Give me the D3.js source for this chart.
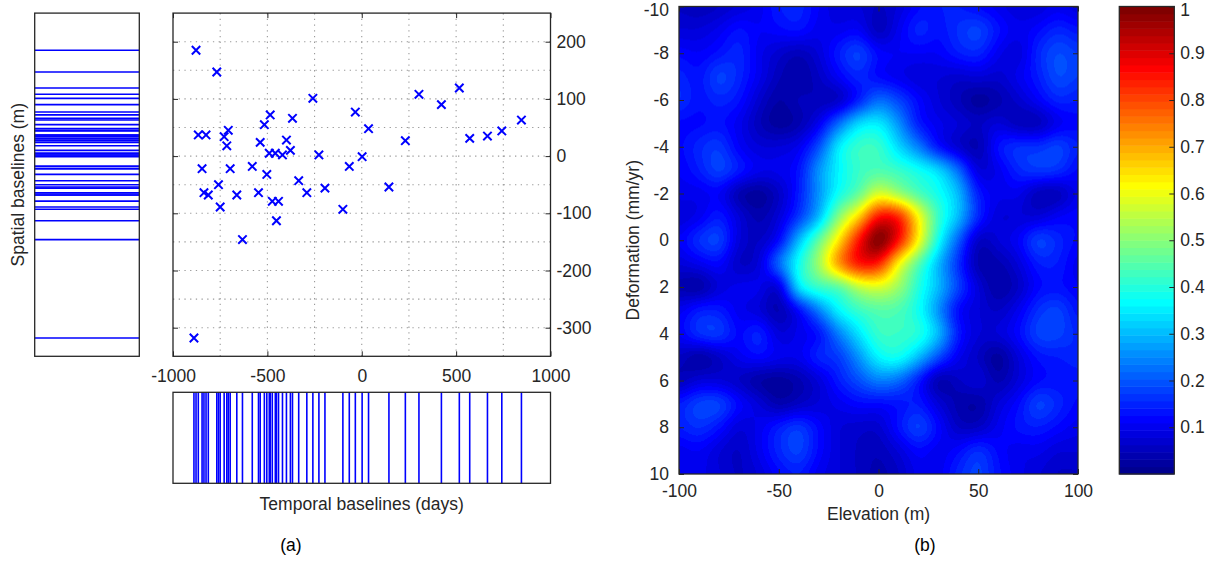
<!DOCTYPE html>
<html><head><meta charset="utf-8">
<script src="https://cdn.jsdelivr.net/npm/d3@7"></script>
<style>
body{margin:0;background:#fff}
svg{display:block}
text{font-family:"Liberation Sans",Arial,Helvetica,sans-serif}
</style>
</head><body>
<svg id="chart" width="1215" height="561"></svg>
<script>
// ---------- Panel (a): baselines ----------
const temporalBaselines = [-878,-768,-259,-34,36,-485,-516,-367,-866,-825,-707,-729,-715,-538,-399,-378,-490,-458,-420,-227,2,-66,-846,-697,-580,-503,-334,-759,-195,303,422,517,846,572,666,742,231,144,-836,-813,-662,-547,-750,-474,-441,-452,-632,-291,-100,-889];
const spatialBaselines  = [185,147,101,77,48,72,55,66,37,37,45,34,18,24,28,10,5,5,2,2,-1,-18,-22,-22,-18,-32,-43,-50,-56,108,90,119,63,31,35,44,27,-54,-64,-68,-68,-64,-89,-79,-79,-113,-146,-64,-93,-318];
const scatterXTicks = [-1000,-500,0,500,1000];
const scatterYTicks = [-300,-200,-100,0,100,200];
const scatterXGrid = [-750,-500,-250,0,250,500,750];
const scatterYGrid = [-300,-250,-200,-150,-100,-50,0,50,100,150,200];

// ---------- Panel (b): coherence map ----------
const elevationTicks = [-100,-50,0,50,100];
const deformationTicks = [-10,-8,-6,-4,-2,0,2,4,6,8,10];
const colorbarTicks = [0.1,0.2,0.3,0.4,0.5,0.6,0.7,0.8,0.9,1];
const elevationSamples = [-100,-90,-80,-70,-60,-50,-40,-30,-20,-10,0,10,20,30,40,50,60,70,80,90,100];
const deformationSamples = [-10,-9,-8,-7,-6,-5,-4,-3,-2,-1,0,1,2,3,4,5,6,7,8,9,10];
const coherence = [
 [0.06,0.05,0.06,0.08,0.10,0.14,0.15,0.11,0.08,0.08,0.06,0.08,0.12,0.14,0.14,0.12,0.10,0.08,0.08,0.10,0.08],
 [0.08,0.08,0.10,0.13,0.11,0.12,0.13,0.10,0.10,0.11,0.05,0.10,0.15,0.13,0.16,0.18,0.13,0.10,0.12,0.15,0.13],
 [0.12,0.11,0.13,0.15,0.10,0.07,0.05,0.08,0.14,0.18,0.12,0.11,0.11,0.11,0.14,0.15,0.10,0.08,0.15,0.19,0.17],
 [0.15,0.13,0.18,0.15,0.10,0.05,0.03,0.06,0.11,0.15,0.12,0.10,0.08,0.08,0.07,0.08,0.07,0.10,0.14,0.19,0.17],
 [0.16,0.13,0.15,0.13,0.07,0.03,0.05,0.05,0.06,0.14,0.22,0.18,0.12,0.08,0.05,0.02,0.04,0.07,0.11,0.15,0.14],
 [0.12,0.12,0.13,0.10,0.05,0.02,0.04,0.10,0.22,0.33,0.35,0.26,0.14,0.10,0.08,0.06,0.08,0.05,0.05,0.10,0.12],
 [0.12,0.15,0.17,0.11,0.08,0.08,0.10,0.19,0.35,0.42,0.42,0.33,0.24,0.13,0.07,0.04,0.13,0.16,0.16,0.18,0.14],
 [0.11,0.14,0.18,0.14,0.10,0.10,0.13,0.26,0.36,0.42,0.44,0.42,0.38,0.33,0.22,0.08,0.10,0.15,0.17,0.16,0.12],
 [0.10,0.10,0.11,0.04,0.02,0.06,0.14,0.26,0.38,0.46,0.58,0.52,0.44,0.38,0.30,0.14,0.10,0.10,0.05,0.05,0.10],
 [0.08,0.10,0.14,0.08,0.04,0.08,0.17,0.30,0.50,0.66,0.86,0.84,0.62,0.42,0.30,0.15,0.08,0.08,0.08,0.11,0.12],
 [0.11,0.16,0.18,0.08,0.06,0.12,0.30,0.46,0.64,0.85,1.00,0.86,0.62,0.38,0.21,0.06,0.08,0.11,0.18,0.15,0.12],
 [0.08,0.10,0.12,0.06,0.08,0.22,0.38,0.52,0.72,0.85,0.84,0.62,0.45,0.30,0.16,0.04,0.04,0.08,0.14,0.14,0.10],
 [0.04,0.03,0.08,0.10,0.10,0.08,0.34,0.42,0.45,0.55,0.58,0.52,0.40,0.30,0.18,0.08,0.03,0.06,0.12,0.13,0.11],
 [0.10,0.14,0.14,0.10,0.08,0.04,0.12,0.24,0.36,0.42,0.45,0.44,0.38,0.26,0.12,0.08,0.06,0.10,0.16,0.18,0.13],
 [0.11,0.16,0.17,0.12,0.15,0.08,0.10,0.13,0.24,0.34,0.42,0.42,0.40,0.30,0.14,0.08,0.08,0.12,0.18,0.18,0.15],
 [0.06,0.03,0.06,0.10,0.12,0.10,0.10,0.15,0.17,0.26,0.36,0.38,0.30,0.19,0.10,0.06,0.02,0.08,0.13,0.14,0.15],
 [0.05,0.08,0.08,0.06,0.03,0.02,0.04,0.08,0.14,0.19,0.24,0.22,0.14,0.04,0.06,0.08,0.04,0.08,0.12,0.13,0.13],
 [0.14,0.18,0.18,0.12,0.08,0.04,0.06,0.08,0.10,0.12,0.12,0.13,0.14,0.08,0.04,0.03,0.08,0.12,0.18,0.15,0.12],
 [0.14,0.16,0.13,0.08,0.10,0.14,0.17,0.12,0.08,0.07,0.07,0.13,0.18,0.12,0.06,0.06,0.10,0.13,0.14,0.12,0.10],
 [0.10,0.11,0.08,0.06,0.10,0.15,0.18,0.12,0.08,0.06,0.05,0.08,0.12,0.10,0.12,0.16,0.12,0.10,0.10,0.08,0.08],
 [0.10,0.10,0.08,0.06,0.08,0.12,0.14,0.10,0.08,0.06,0.04,0.06,0.10,0.10,0.15,0.18,0.13,0.10,0.08,0.06,0.06]
];

// ---------- helpers ----------
const AX = "#262626";
const FS = 17.5;
const svg = d3.select("#chart");
const fmt = d => String(d);

function jet64(v){
  const i = Math.max(1, Math.min(64, Math.floor(v*64)+1));
  let r,g,b;
  r = i<=24?0: i<=40?(i-24)/16: i<=56?1: 1-(i-56)/16;
  g = i<=8?0: i<=24?(i-8)/16: i<=40?1: i<=56?1-(i-40)/16: 0;
  b = i<=8?0.5+i/16: i<=24?1: i<=40?1-(i-24)/16: 0;
  return [Math.round(r*255),Math.round(g*255),Math.round(b*255)];
}
function styleAxis(g){
  g.select(".domain").remove();
  g.selectAll(".tick line").attr("stroke",AX).attr("stroke-width",1);
  g.selectAll(".tick text").attr("fill",AX).attr("font-size",FS)
    .attr("font-family",'"Liberation Sans",Arial,sans-serif');
}

// ---------- scales panel (a) ----------
const xS = d3.scaleLinear().domain([-1000,1000]).range([173,550.5]);
const yS = d3.scaleLinear().domain([-350,250]).range([356.3,13.1]);
const scLeft=173, scRight=550.5, scTop=13.1, scBottom=356.3;

const gA = svg.append("g");
gA.selectAll(".gx").data(scatterXGrid).join("line")
  .attr("x1",d=>xS(d)).attr("x2",d=>xS(d)).attr("y1",scTop).attr("y2",scBottom)
  .attr("stroke","#9a9a9a").attr("stroke-width",1.1).attr("stroke-dasharray","1.3,4.4");
gA.selectAll(".gy").data(scatterYGrid).join("line")
  .attr("y1",d=>yS(d)).attr("y2",d=>yS(d)).attr("x1",scLeft).attr("x2",scRight)
  .attr("stroke","#9a9a9a").attr("stroke-width",1.1).attr("stroke-dasharray","1.3,4.4");

const pts = temporalBaselines.map((t,i)=>({t, s:spatialBaselines[i]}));
const ms = 4.2;
gA.selectAll(".mk").data(pts).join("path")
  .attr("d",d=>{const x=xS(d.t), y=yS(d.s);
     return `M${x-ms},${y-ms}L${x+ms},${y+ms}M${x-ms},${y+ms}L${x+ms},${y-ms}`;})
  .attr("stroke","#0000ff").attr("stroke-width",2).attr("fill","none");

svg.append("g").attr("transform",`translate(0,${scBottom})`)
  .call(d3.axisBottom(xS).tickValues(scatterXTicks).tickFormat(fmt).tickSizeInner(-5).tickSizeOuter(0).tickPadding(13))
  .call(styleAxis);
svg.append("g").attr("transform",`translate(0,${scTop})`)
  .call(d3.axisTop(xS).tickValues(scatterXTicks).tickFormat("").tickSizeInner(-5).tickSizeOuter(0))
  .call(styleAxis);
svg.append("g").attr("transform",`translate(${scRight},0)`)
  .call(d3.axisRight(yS).tickValues(scatterYTicks).tickFormat(fmt).tickSizeInner(-5).tickSizeOuter(0).tickPadding(6))
  .call(styleAxis);
svg.append("g").attr("transform",`translate(${scLeft},0)`)
  .call(d3.axisLeft(yS).tickValues(scatterYTicks).tickFormat("").tickSizeInner(-5).tickSizeOuter(0))
  .call(styleAxis);
svg.append("rect").attr("x",scLeft).attr("y",scTop).attr("width",scRight-scLeft).attr("height",scBottom-scTop)
  .attr("fill","none").attr("stroke",AX).attr("stroke-width",1.3);

// left panel: spatial baselines
const lpL=34.7, lpR=139.3;
svg.append("g").selectAll("line").data(spatialBaselines).join("line")
  .attr("x1",lpL).attr("x2",lpR).attr("y1",d=>yS(d)).attr("y2",d=>yS(d))
  .attr("stroke","#0000ff").attr("stroke-width",1.6);
svg.append("rect").attr("x",lpL).attr("y",scTop).attr("width",lpR-lpL).attr("height",scBottom-scTop)
  .attr("fill","none").attr("stroke",AX).attr("stroke-width",1.3);
svg.append("text").attr("transform",`translate(24,${(scTop+scBottom)/2}) rotate(-90)`)
  .attr("text-anchor","middle").attr("font-size",FS).attr("fill",AX).text("Spatial baselines (m)");

// bottom panel: temporal baselines
const bpT=392.3, bpB=483.3;
svg.append("g").selectAll("line").data(temporalBaselines).join("line")
  .attr("y1",bpT).attr("y2",bpB).attr("x1",d=>xS(d)).attr("x2",d=>xS(d))
  .attr("stroke","#0000ff").attr("stroke-width",1.6);
svg.append("rect").attr("x",scLeft).attr("y",bpT).attr("width",scRight-scLeft).attr("height",bpB-bpT)
  .attr("fill","none").attr("stroke",AX).attr("stroke-width",1.3);
svg.append("text").attr("x",(scLeft+scRight)/2).attr("y",510)
  .attr("text-anchor","middle").attr("font-size",FS).attr("fill",AX).text("Temporal baselines (days)");

svg.append("text").attr("x",291).attr("y",551).attr("text-anchor","middle")
  .attr("font-family",'"Liberation Serif","Times New Roman",serif').attr("font-size",17.5).attr("fill","#000").text("(a)");

// ---------- panel (b) ----------
const hL=679, hR=1078, hT=6.5, hB=474;
const xH = d3.scaleLinear().domain([-100,100]).range([hL,hR]);
const yH = d3.scaleLinear().domain([-10,10]).range([hT,hB]);
const gxS = d3.scaleLinear().domain(d3.extent(elevationSamples)).range([0,elevationSamples.length-1]);
const gyS = d3.scaleLinear().domain(d3.extent(deformationSamples)).range([0,deformationSamples.length-1]);

function cr(p0,p1,p2,p3,t){return p1+0.5*t*(p2-p0+t*(2*p0-5*p1+4*p2-p3+t*(3*(p1-p2)+p3-p0)));}
const nR=coherence.length, nC=coherence[0].length;
function at(r,c){r=Math.max(0,Math.min(nR-1,r));c=Math.max(0,Math.min(nC-1,c));return coherence[r][c];}
function sample(gx,gy){
  const i=Math.floor(gx), j=Math.floor(gy), fx=gx-i, fy=gy-j;
  const rows=[];
  for(let k=-1;k<=2;k++) rows.push(cr(at(j+k,i-1),at(j+k,i),at(j+k,i+1),at(j+k,i+2),fx));
  return cr(rows[0],rows[1],rows[2],rows[3],fy);
}
const W=Math.round(hR-hL), H=Math.round(hB-hT);
let F=new Float32Array(W*H);
for(let py=0;py<H;py++){
  const gy=gyS(yH.invert(hT+(py+0.5)*(hB-hT)/H));
  for(let px=0;px<W;px++){
    const gx=gxS(xH.invert(hL+(px+0.5)*(hR-hL)/W));
    F[py*W+px]=sample(gx,gy);
  }
}
// display smoothing of the interpolated surface
function blur(src,sig,horiz){
  const rad=Math.ceil(sig*2.5), k=[]; let s=0;
  for(let i=-rad;i<=rad;i++){const w=Math.exp(-i*i/(2*sig*sig));k.push(w);s+=w;}
  const out=new Float32Array(W*H);
  for(let y=0;y<H;y++)for(let x=0;x<W;x++){
    let a=0;
    for(let i=-rad;i<=rad;i++){
      let xx=x,yy=y; if(horiz) xx=Math.max(0,Math.min(W-1,x+i)); else yy=Math.max(0,Math.min(H-1,y+i));
      a+=src[yy*W+xx]*k[i+rad];
    }
    out[y*W+x]=a/s;
  }
  return out;
}
F=blur(blur(F,4.5,true),4.5,false);
const cv=document.createElement("canvas"); cv.width=W; cv.height=H;
const ctx=cv.getContext("2d"); const img=ctx.createImageData(W,H);
for(let p=0;p<W*H;p++){
  const v=Math.max(0,Math.min(1,F[p]));
  const [r,g,b]=jet64(v); const o=p*4;
  img.data[o]=r;img.data[o+1]=g;img.data[o+2]=b;img.data[o+3]=255;
}
ctx.putImageData(img,0,0);
svg.append("image").attr("x",hL).attr("y",hT).attr("width",hR-hL).attr("height",hB-hT)
  .attr("preserveAspectRatio","none").attr("href",cv.toDataURL());

svg.append("g").attr("transform",`translate(0,${hB})`)
  .call(d3.axisBottom(xH).tickValues(elevationTicks).tickFormat(fmt).tickSizeInner(-5).tickSizeOuter(0).tickPadding(11))
  .call(styleAxis);
svg.append("g").attr("transform",`translate(0,${hT})`)
  .call(d3.axisTop(xH).tickValues(elevationTicks).tickFormat("").tickSizeInner(-5).tickSizeOuter(0))
  .call(styleAxis);
const yAxH = svg.append("g").attr("transform",`translate(${hL},0)`)
  .call(d3.axisLeft(yH).tickValues(deformationTicks).tickFormat(fmt).tickSizeInner(-5).tickSizeOuter(0).tickPadding(10))
  .call(styleAxis);
yAxH.selectAll(".tick text").filter(d=>d===-10).attr("dy","0.5em");
svg.append("g").attr("transform",`translate(${hR},0)`)
  .call(d3.axisRight(yH).tickValues(deformationTicks).tickFormat("").tickSizeInner(-5).tickSizeOuter(0))
  .call(styleAxis);
svg.append("rect").attr("x",hL).attr("y",hT).attr("width",hR-hL).attr("height",hB-hT)
  .attr("fill","none").attr("stroke",AX).attr("stroke-width",1.3);
svg.append("text").attr("x",(hL+hR)/2).attr("y",520)
  .attr("text-anchor","middle").attr("font-size",FS).attr("fill",AX).text("Elevation (m)");
svg.append("text").attr("transform",`translate(639,${(hT+hB)/2}) rotate(-90)`)
  .attr("text-anchor","middle").attr("font-size",FS).attr("fill",AX).text("Deformation (mm/yr)");

// colorbar
const cL=1119.3, cR=1174.3;
const yC = d3.scaleLinear().domain([0,1]).range([hB,hT]);
const levels = d3.range(64);
svg.append("g").selectAll("rect").data(levels).join("rect")
  .attr("x",cL).attr("width",cR-cL)
  .attr("y",d=>yC((d+1)/64)).attr("height",d=>yC(d/64)-yC((d+1)/64)+0.5)
  .attr("fill",d=>{const [r,g,b]=jet64((d+0.5)/64);return `rgb(${r},${g},${b})`;});
const cAx = svg.append("g").attr("transform",`translate(${cR},0)`)
  .call(d3.axisRight(yC).tickValues(colorbarTicks).tickFormat(fmt).tickSizeInner(-5).tickSizeOuter(0).tickPadding(6))
  .call(styleAxis);
cAx.selectAll(".tick text").filter(d=>d===1).attr("dy","0.5em");
svg.append("rect").attr("x",cL).attr("y",hT).attr("width",cR-cL).attr("height",hB-hT)
  .attr("fill","none").attr("stroke",AX).attr("stroke-width",1.3);

svg.append("text").attr("x",925).attr("y",551).attr("text-anchor","middle")
  .attr("font-family",'"Liberation Serif","Times New Roman",serif').attr("font-size",17.5).attr("fill","#000").text("(b)");
</script>
</body></html>
